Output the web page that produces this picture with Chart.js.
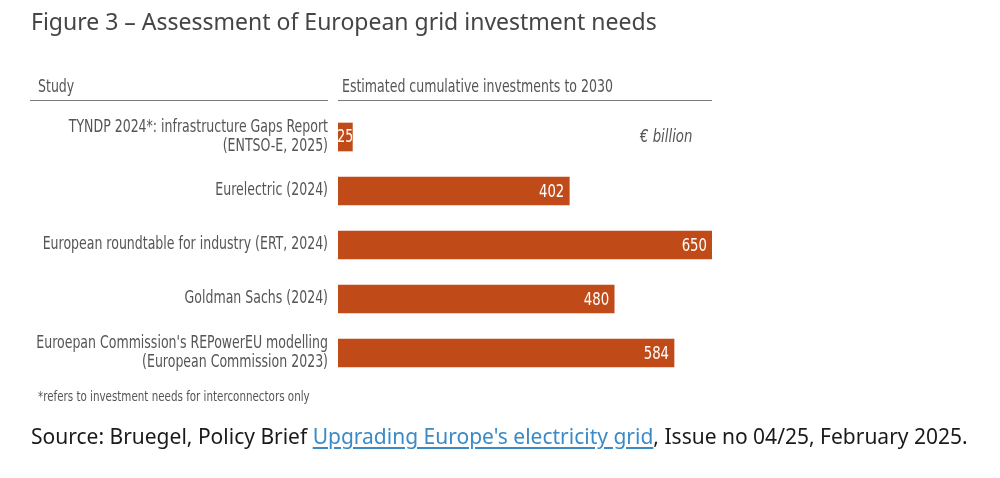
<!DOCTYPE html>
<html>
<head>
<meta charset="utf-8">
<script src="https://cdn.jsdelivr.net/npm/chart.js@4/dist/chart.umd.min.js"></script>
<style>
    html, body { margin: 0; padding: 0; background: #fff; }
    #wrap { position: relative; width: 1000px; height: 478px; overflow: hidden; }
    #chart { position: absolute; left: 0; top: 0; }
    .txt { position: absolute; white-space: nowrap; }
    #title { left: 31px; top: 5px; font: 23px "Noto Sans", sans-serif; color: #454545; }
    .cond { font-family: "DejaVu Sans Condensed", sans-serif; color: #555; transform: scaleX(0.82); transform-origin: 0 50%; }
    #hStudy { left: 38px; top: 76px; font-size: 17px; }
    #hEst { left: 342px; top: 76px; font-size: 17px; }
    .rule { position: absolute; top: 100px; height: 1px; background: #7a7a7a; }
    #unit { left: 640px; top: 125px; font-size: 18px; font-style: italic; }
    #foot { left: 38px; top: 388px; font-size: 14px; }
    #source { left: 31px; top: 422px; font: 21px "Noto Sans", sans-serif; color: #1a1a1a; }
    #source a { color: #3b8ac6; text-decoration: underline; text-underline-offset: 3px; }
</style>
</head>
<body>
<div id="wrap">
    <canvas id="chart" width="1000" height="478"></canvas>
    <div class="txt" id="title">Figure 3 – Assessment of European grid investment needs</div>
    <div class="txt cond" id="hStudy">Study</div>
    <div class="txt cond" id="hEst">Estimated cumulative investments to 2030</div>
    <div class="rule" style="left:30px; width:298px;"></div>
    <div class="rule" style="left:338px; width:374px;"></div>
    <div class="txt cond" id="unit">€ billion</div>
    <div class="txt cond" id="foot">*refers to investment needs for interconnectors only</div>
    <div class="txt" id="source">Source: Bruegel, Policy Brief <a href="#">Upgrading Europe's electricity grid</a>, Issue no 04/25, February 2025.</div>
</div>
<script>
(function () {
    'use strict';

    var studies = [
        ['TYNDP 2024*: infrastructure Gaps Report', '(ENTSO-E, 2025)'],
        'Eurelectric (2024)',
        'European roundtable for industry (ERT, 2024)',
        'Goldman Sachs (2024)',
        ["Euroepan Commission's REPowerEU modelling", '(European Commission 2023)']
    ];
    var investments = [25, 402, 650, 480, 584];

    var condFont = '"DejaVu Sans Condensed", sans-serif';
    var squeeze = 0.82;

    // condensed text helper: draws text squeezed horizontally around x
    function drawSqueezed(ctx, text, x, y, align) {
        ctx.save();
        ctx.translate(x, y);
        ctx.scale(squeeze, 1);
        ctx.textAlign = align;
        ctx.fillText(text, 0, 0);
        ctx.restore();
    }

    // study names, right aligned against the bars
    var studyLabels = {
        id: 'studyLabels',
        afterDraw: function (chart) {
            var ctx = chart.ctx;
            var yScale = chart.scales.y;
            ctx.save();
            ctx.fillStyle = '#555';
            ctx.font = '17px ' + condFont;
            ctx.textBaseline = 'middle';
            studies.forEach(function (label, i) {
                var lines = Array.isArray(label) ? label : [label];
                var y0 = yScale.getPixelForTick(i) - (lines.length - 1) * 19 / 2;
                lines.forEach(function (line, j) {
                    drawSqueezed(ctx, line, 328, y0 + j * 19, 'right');
                });
            });
            ctx.restore();
        }
    };

    // white value labels at the end of each bar
    var valueLabels = {
        id: 'valueLabels',
        afterDatasetsDraw: function (chart) {
            var ctx = chart.ctx;
            var meta = chart.getDatasetMeta(0);
            ctx.save();
            ctx.fillStyle = '#ffffff';
            ctx.textBaseline = 'middle';
            meta.data.forEach(function (bar, i) {
                var w = bar.x - bar.base;
                if (w < 30) {
                    ctx.font = '17px ' + condFont;
                    drawSqueezed(ctx, String(investments[i]), (bar.x + bar.base) / 2, bar.y + 1, 'center');
                } else {
                    ctx.font = '18px ' + condFont;
                    drawSqueezed(ctx, String(investments[i]), bar.x - 5, bar.y + 1, 'right');
                }
            });
            ctx.restore();
        }
    };

    new Chart(document.getElementById('chart').getContext('2d'), {
        type: 'bar',
        data: {
            labels: studies,
            datasets: [{
                data: investments,
                backgroundColor: '#c04b18',
                barThickness: 28
            }]
        },
        options: {
            indexAxis: 'y',
            responsive: false,
            animation: false,
            layout: { padding: { top: 110, bottom: 98, left: 0, right: 288 } },
            plugins: { legend: { display: false }, tooltip: { enabled: false } },
            scales: {
                x: { display: false, min: 0, max: 650 },
                y: {
                    grid: { display: false },
                    border: { display: false },
                    ticks: { display: false },
                    afterFit: function (scale) { scale.width = 338; }
                }
            }
        },
        plugins: [valueLabels, studyLabels]
    });
})();
</script>
</body>
</html>
